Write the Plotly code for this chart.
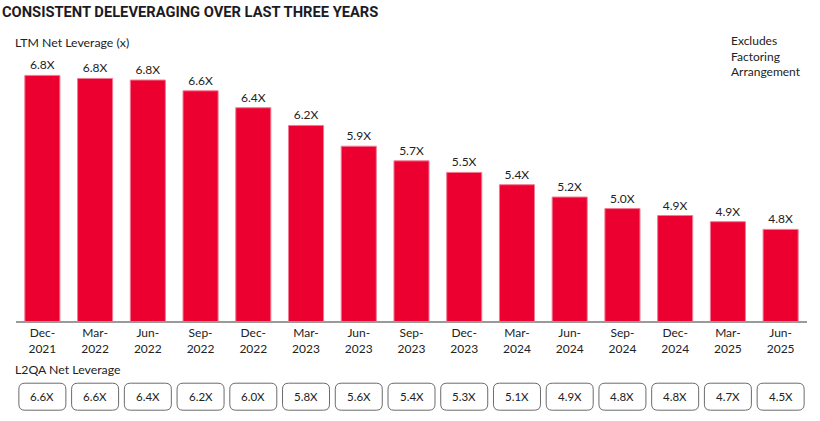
import plotly.graph_objects as go

# ---- data ----
periods = ["Dec-2021", "Mar-2022", "Jun-2022", "Sep-2022", "Dec-2022", "Mar-2023",
           "Jun-2023", "Sep-2023", "Dec-2023", "Mar-2024", "Jun-2024", "Sep-2024",
           "Dec-2024", "Mar-2025", "Jun-2025"]
ltm_values = [6.80, 6.76, 6.74, 6.60, 6.38, 6.15, 5.88, 5.69, 5.54, 5.38, 5.22, 5.07,
              4.98, 4.90, 4.80]
ltm_labels = ["6.8X", "6.8X", "6.8X", "6.6X", "6.4X", "6.2X", "5.9X", "5.7X", "5.5X",
              "5.4X", "5.2X", "5.0X", "4.9X", "4.9X", "4.8X"]
l2qa_labels = ["6.6X", "6.6X", "6.4X", "6.2X", "6.0X", "5.8X", "5.6X", "5.4X", "5.3X",
               "5.1X", "4.9X", "4.8X", "4.8X", "4.7X", "4.5X"]
tick_text = [p.replace("-", "-<br>") for p in periods]

# ---- layout constants (pixels) ----
W, H = 820, 421
ML, MR, MT, MB = 16, 13, 60, 100
PW, PH = W - ML - MR, H - MT - MB
FONT = "Lato"
TXT = "#222222"


def px(xp):
    return (xp - ML) / PW


def py(yp):
    return (H - MB - yp) / PH


idx = list(range(len(periods)))

fig = go.Figure(go.Bar(
    x=idx, y=ltm_values, text=ltm_labels, textposition="outside",
    textfont=dict(family=FONT, size=12, color=TXT),
    marker=dict(color="#EB002F", line=dict(color="#F27A93", width=1)),
    cliponaxis=False, width=0.665, hoverinfo="skip",
))

box_w, box_h, r = 47, 27, 6
hw, hh = box_w / 2, box_h / 2
rect = (f"M {-hw + r},{-hh} L {hw - r},{-hh} Q {hw},{-hh} {hw},{-hh + r} "
        f"L {hw},{hh - r} Q {hw},{hh} {hw - r},{hh} L {-hw + r},{hh} "
        f"Q {-hw},{hh} {-hw},{hh - r} L {-hw},{-hh + r} Q {-hw},{-hh} {-hw + r},{-hh} Z")
box_y = py(396.7)
shapes = []
annotations = []
for i, lab in zip(idx, l2qa_labels):
    shapes.append(dict(type="path", xref="x", yref="paper", xsizemode="pixel",
                       ysizemode="pixel", xanchor=i, yanchor=box_y, path=rect,
                       line=dict(color="#6b6b6b", width=1), fillcolor="white"))
    annotations.append(dict(x=i, y=box_y, xref="x", yref="paper", text=lab,
                            showarrow=False, font=dict(family=FONT, size=11.5, color=TXT),
                            xanchor="center", yanchor="middle"))

annotations += [
    dict(x=px(0), y=py(12), xref="paper", yref="paper", xanchor="left", yanchor="middle",
         text="<b>CONSISTENT DELEVERAGING OVER LAST THREE YEARS</b>", showarrow=False,
         font=dict(family="Roboto", size=14.7, color="#1b1b24")),
    dict(x=px(13), y=py(42), xref="paper", yref="paper", xanchor="left", yanchor="middle",
         text="LTM Net Leverage (x)", showarrow=False,
         font=dict(family=FONT, size=12.3, color=TXT)),
    dict(x=px(729), y=py(55.5), xref="paper", yref="paper", xanchor="left", yanchor="middle",
         text="Excludes<br>Factoring<br>Arrangement", showarrow=False, align="left",
         font=dict(family=FONT, size=12, color=TXT)),
    dict(x=px(13), y=py(369), xref="paper", yref="paper", xanchor="left", yanchor="middle",
         text="L2QA Net Leverage", showarrow=False,
         font=dict(family=FONT, size=12.3, color=TXT)),
]

fig.update_layout(
    width=W, height=H, margin=dict(l=ML, r=MR, t=MT, b=MB),
    paper_bgcolor="white", plot_bgcolor="white", showlegend=False,
    shapes=shapes, annotations=annotations,
    xaxis=dict(range=[-0.5, len(periods) - 0.5], tickmode="array", tickvals=idx,
               ticktext=tick_text, showgrid=False, zeroline=False, showline=True,
               linecolor="#9a9a9a", linewidth=1.5, ticks="",
               tickfont=dict(family=FONT, size=12, color=TXT), fixedrange=True),
    yaxis=dict(range=[3.61, 7.0], visible=False, fixedrange=True),
)

fig.write_html("out.html", config={"displayModeBar": False},
               post_script="document.body.style.margin='0';document.body.style.overflow='hidden';")
